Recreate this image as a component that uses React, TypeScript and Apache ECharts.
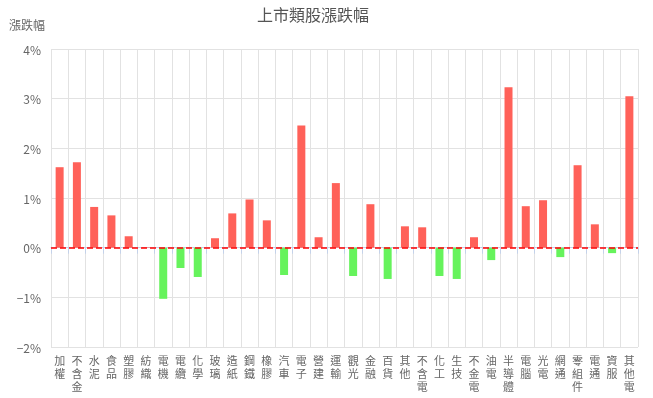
import React, { useEffect, useRef } from "react";
import * as echarts from "echarts";

const categories = [
  "加權", "不含金", "水泥", "食品", "塑膠", "紡織", "電機", "電纜", "化學", "玻璃",
  "造紙", "鋼鐵", "橡膠", "汽車", "電子", "營建", "運輸", "觀光", "金融", "百貨",
  "其他", "不含電", "化工", "生技", "不金電", "油電", "半導體", "電腦", "光電", "網通",
  "零組件", "電通", "資服", "其他電",
];

const changes = [
  1.62, 1.72, 0.82, 0.65, 0.23, 0.01, -1.03, -0.41, -0.59, 0.19,
  0.69, 0.97, 0.55, -0.55, 2.46, 0.21, 1.3, -0.57, 0.875, -0.63,
  0.43, 0.41, -0.57, -0.63, 0.21, -0.25, 3.23, 0.835, 0.955, -0.19,
  1.66, 0.47, -0.11, 3.05,
];

const yTicks = [-2, -1, 0, 1, 2, 3, 4];

const UP = "#ff6159";
const DOWN = "#66f35c";
const FONT = "'Noto Sans CJK TC', 'Noto Sans', sans-serif";

export default function App() {
  const ref = useRef<HTMLDivElement>(null);
  useEffect(() => {
    if (!ref.current) return;
    const chart = echarts.init(ref.current, null, { renderer: "svg" });
    chart.setOption({
      animation: false,
      textStyle: { fontFamily: FONT },
      title: [
        {
          text: "上市類股漲跌幅",
          left: 308,
          top: 1,
          textAlign: "center",
          textStyle: { fontSize: 16, fontWeight: "normal", color: "#555", fontFamily: FONT },
        },
        {
          text: "漲跌幅",
          left: 4,
          top: 13,
          textStyle: { fontSize: 12, fontWeight: "normal", color: "#666", fontFamily: FONT },
        },
      ],
      grid: { left: 51, top: 49, width: 587, height: 298, containLabel: false },
      xAxis: {
        type: "category",
        data: categories,
        boundaryGap: true,
        axisLine: { show: true, lineStyle: { color: "#c4d2ea", width: 1 } },
        axisTick: { show: true, alignWithLabel: false, length: 6, lineStyle: { color: "#c4d2ea" } },
        splitLine: { show: true, lineStyle: { color: "#e2e2e2", width: 1 } },
        axisLabel: {
          interval: 0,
          color: "#666",
          fontSize: 11,
          lineHeight: 13,
          margin: 6,
          width: 12,
          overflow: "break",
          fontFamily: FONT,
        },
      },
      yAxis: {
        type: "value",
        min: yTicks[0],
        max: yTicks[yTicks.length - 1],
        interval: 1,
        axisLine: { show: false },
        axisTick: { show: false },
        splitLine: { show: true, lineStyle: { color: "#e2e2e2", width: 1 } },
        axisLabel: {
          color: "#666",
          fontSize: 12,
          margin: 10,
          fontFamily: FONT,
          formatter: (v: number) => (v < 0 ? "\u2212" + Math.abs(v) : String(v)) + "%",
        },
      },
      series: [
        {
          type: "bar",
          barWidth: 8,
          data: changes.map((v) => ({
            value: v,
            itemStyle: { color: v >= 0 ? UP : DOWN },
          })),
          markLine: {
            silent: true,
            symbol: "none",
            label: { show: false },
            lineStyle: { color: "#ff0000", type: [6, 3], width: 1.5 },
            data: [{ yAxis: 0 }],
          },
        },
      ],
    });
    return () => chart.dispose();
  }, []);
  return (
    <div
      ref={ref}
      style={{ position: "fixed", left: 0, top: 0, width: 653, height: 398 }}
    />
  );
}
